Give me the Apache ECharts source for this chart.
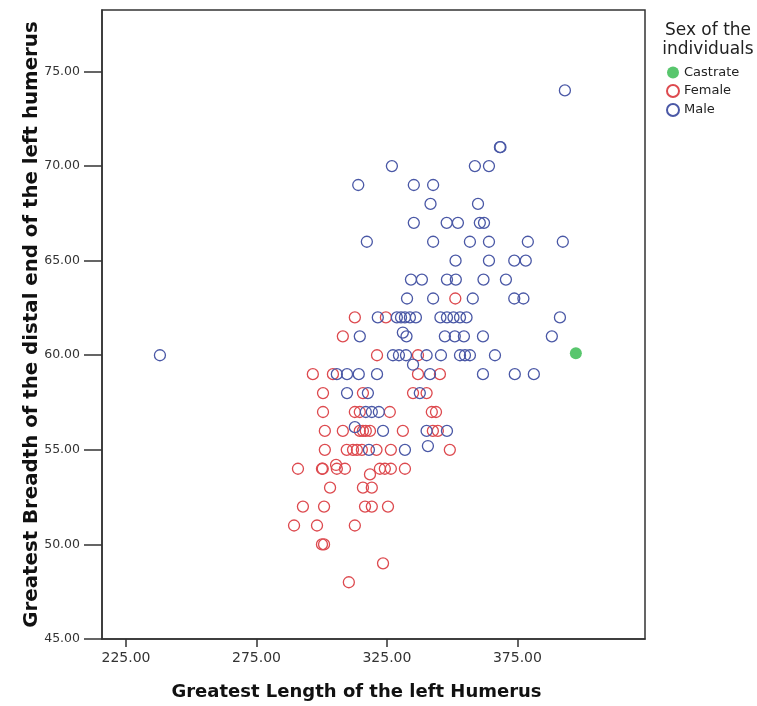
<!DOCTYPE html>
<html>
<head>
<meta charset="utf-8">
<title>Humerus measurements by sex</title>
<script src="https://cdn.jsdelivr.net/npm/echarts@6/dist/echarts.min.js"></script>
<style>
  html, body { margin: 0; padding: 0; background: #fff; }
  #chart { width: 757px; height: 706px; }
</style>
</head>
<body>
<div id="chart"></div>
<script>
// Greatest length (x) and greatest distal breadth (y) of the left humerus, per individual
const castrateData = [
  [397.4, 60.1]
];

const femaleData = [
  [351.2, 63],
  [312.7, 62], [324.6, 62],
  [308.1, 61],
  [321.2, 60], [336.9, 60],
  [296.6, 59], [304.3, 59], [336.9, 59], [345.3, 59],
  [300.5, 58], [315.8, 58], [335.0, 58], [340.2, 58],
  [300.5, 57], [312.7, 57], [314.6, 57], [326.1, 57], [342.2, 57], [343.8, 57],
  [301.2, 56], [308.1, 56], [314.6, 56], [315.8, 56], [316.9, 56], [318.5, 56], [331.1, 56], [342.6, 56], [344.5, 56],
  [301.2, 55], [309.6, 55], [312.0, 55], [313.5, 55], [315.4, 55], [321.0, 55], [326.5, 55], [349.1, 55],
  [305.5, 54.2],
  [290.9, 54], [300.1, 54], [300.4, 54], [305.8, 54], [308.9, 54], [322.3, 54], [324.2, 54], [326.5, 54], [331.9, 54],
  [318.5, 53.7],
  [303.2, 53], [315.8, 53], [319.2, 53],
  [292.8, 52], [300.9, 52], [316.6, 52], [319.2, 52], [325.4, 52],
  [289.4, 51], [298.2, 51], [312.7, 51],
  [300.1, 50], [300.9, 50],
  [323.5, 49],
  [310.4, 48]
];

const maleData = [
  [393.2, 74],
  [368.3, 71], [368.5, 71],
  [326.9, 70], [358.7, 70], [364.1, 70],
  [314.0, 69], [335.3, 69], [342.7, 69],
  [341.7, 68], [359.9, 68],
  [335.3, 67], [347.9, 67], [352.2, 67], [360.6, 67], [362.2, 67],
  [317.3, 66], [342.7, 66], [356.8, 66], [364.1, 66], [379.0, 66], [392.4, 66],
  [351.3, 65], [364.1, 65], [373.8, 65], [378.2, 65],
  [334.2, 64], [338.4, 64], [348.0, 64], [351.4, 64], [362.0, 64], [370.6, 64],
  [332.7, 63], [342.7, 63], [357.9, 63], [373.8, 63], [377.3, 63],
  [321.5, 62], [328.8, 62], [330.4, 62], [331.9, 62], [333.8, 62], [336.1, 62],
  [345.5, 62], [348.0, 62], [350.5, 62], [353.0, 62], [355.5, 62], [391.3, 62],
  [331.1, 61.2], [332.5, 61],
  [314.6, 61], [347.2, 61], [351.0, 61], [354.5, 61], [361.8, 61], [388.2, 61],
  [238.0, 60], [327.3, 60], [329.6, 60], [332.3, 60], [340.2, 60], [345.7, 60],
  [353.0, 60], [354.9, 60], [356.8, 60], [366.4, 60],
  [335.0, 59.5],
  [305.8, 59], [309.7, 59], [314.2, 59], [321.2, 59], [341.5, 59], [361.8, 59], [374.0, 59], [381.3, 59],
  [309.7, 58], [317.7, 58], [337.6, 58],
  [316.9, 57], [319.2, 57], [321.9, 57],
  [312.7, 56.2],
  [323.5, 56], [340.2, 56], [348.0, 56],
  [340.7, 55.2],
  [318.1, 55], [331.9, 55]
];

const xTicks = [225, 275, 325, 375];
const yTicks = [45, 50, 55, 60, 65, 70, 75];

const seriesNames = ['Castrate', 'Female', 'Male'];
const seriesColors = ['#2eb848', '#dd4a4f', '#4a58a6'];

const chart = echarts.init(document.getElementById('chart'), null, { renderer: 'canvas' });

const axisFont = 'DejaVu Sans, sans-serif';

function hollow(name, data, color) {
  return {
    name: name,
    type: 'scatter',
    data: data,
    symbol: 'circle',
    symbolSize: 11,
    itemStyle: { color: 'rgba(255,255,255,0)', borderColor: color, borderWidth: 1.3, opacity: 1 },
    emphasis: { disabled: true }
  };
}

chart.setOption({
  animation: false,
  backgroundColor: '#ffffff',
  grid: {
    left: 102, right: 112, top: 10, bottom: 66,
    show: true, borderColor: '#333', borderWidth: 1.5, backgroundColor: 'transparent'
  },
  title: {
    text: 'Sex of the\nindividuals',
    left: 703, top: 16,
    textAlign: 'center',
    textStyle: { fontFamily: axisFont, fontSize: 17, fontWeight: 'normal', color: '#222', lineHeight: 19 }
  },
  legend: {
    orient: 'vertical',
    left: 666, top: 66,
    padding: 0,
    itemWidth: 12, itemHeight: 12, itemGap: 5,
    icon: 'circle',
    data: seriesNames,
    textStyle: { fontFamily: axisFont, fontSize: 13, color: '#222' }
  },
  xAxis: {
    type: 'value',
    min: 215.8, max: 423.9,
    name: 'Greatest Length of the left Humerus',
    nameLocation: 'middle',
    nameMoveOverlap: false,
    nameGap: 44,
    nameTextStyle: { fontFamily: axisFont, fontSize: 18, fontWeight: 'bold', color: '#111', padding: [0, 34, 0, 0] },
    axisLine: { show: true, lineStyle: { color: '#333', width: 1.5 } },
    axisTick: { show: true, length: 8, customValues: xTicks, lineStyle: { color: '#333', width: 1.5 } },
    axisLabel: {
      customValues: xTicks, margin: 12,
      fontFamily: axisFont, fontSize: 14, color: '#333',
      formatter: v => v.toFixed(2)
    },
    splitLine: { show: false }
  },
  yAxis: {
    type: 'value',
    min: 45, max: 78.25,
    name: 'Greatest Breadth of the distal end of the left humerus',
    nameLocation: 'middle',
    nameMoveOverlap: false,
    nameGap: 60,
    nameTextStyle: { fontFamily: axisFont, fontSize: 19.8, fontWeight: 'bold', color: '#111' },
    axisLine: { show: true, lineStyle: { color: '#333', width: 1.5 } },
    axisTick: { show: true, length: 18, customValues: yTicks, lineStyle: { color: '#333', width: 1.5 } },
    axisLabel: {
      customValues: yTicks, margin: 22,
      fontFamily: axisFont, fontSize: 12.5, color: '#333',
      formatter: v => v.toFixed(2)
    },
    splitLine: { show: false }
  },
  series: [
    {
      name: seriesNames[0],
      type: 'scatter',
      data: castrateData,
      symbol: 'circle',
      symbolSize: 12,
      itemStyle: { color: seriesColors[0], borderColor: seriesColors[0], borderWidth: 0 },
      emphasis: { disabled: true }
    },
    hollow(seriesNames[1], femaleData, seriesColors[1]),
    hollow(seriesNames[2], maleData, seriesColors[2])
  ]
});
</script>
</body>
</html>
